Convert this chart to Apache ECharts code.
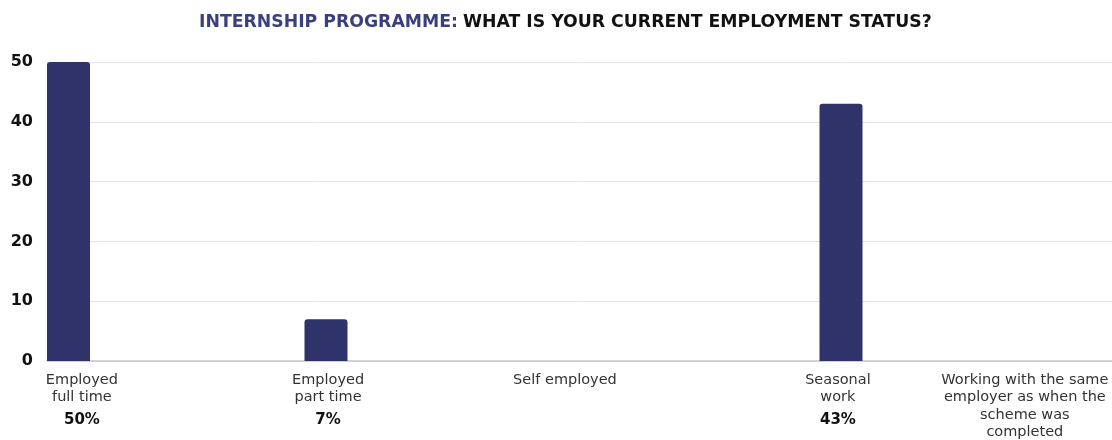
<!DOCTYPE html>
<html>
<head>
<meta charset="utf-8">
<script src="https://cdn.jsdelivr.net/npm/echarts@6/dist/echarts.min.js"></script>
<style>
  html, body { margin: 0; padding: 0; background: #ffffff; }
  #chart { width: 1112px; height: 440px; }
</style>
</head>
<body>
<div id="chart"></div>
<script>
// Survey answers and the share of respondents for each one (percent)
const categories = [
  'Employed\nfull time',
  'Employed\npart time',
  'Self employed',
  'Seasonal\nwork',
  'Working with the same\nemployer as when the\nscheme was\ncompleted'
];
const shares = [50, 7, 0, 43, 0];
const shareLabels = ['50%', '7%', '', '43%', ''];
const yTicks = [0, 10, 20, 30, 40, 50];

// Where each category caption sits along the x scale (bar slots are 0..4)
const captionAnchors = [0.052, 1.008, 1.928, 2.988, 3.714];

const FONT = '"DejaVu Sans", "Open Sans", sans-serif';

const chart = echarts.init(document.getElementById('chart'), null, { renderer: 'canvas' });

const barData = shares.map((v, i) => [i, v]);

chart.setOption({
  animation: false,
  backgroundColor: '#ffffff',
  title: {
    left: 194,
    top: 9,
    text: '{a|INTERNSHIP PROGRAMME:} {b|WHAT IS YOUR CURRENT EMPLOYMENT STATUS?}',
    textStyle: {
      rich: {
        a: { fontFamily: FONT, fontWeight: 'bold', fontSize: 17.3, color: '#3b3f7d' },
        b: { fontFamily: FONT, fontWeight: 'bold', fontSize: 17.3, color: '#111111' }
      }
    }
  },
  grid: { left: 47, right: 0, top: 62, bottom: 79, containLabel: false, outerBoundsMode: 'none' },
  xAxis: {
    type: 'value',
    min: -0.0835,
    max: 4.0524,
    axisLine: { show: true, onZero: false, lineStyle: { color: '#c6c6c6', width: 1.5 } },
    axisTick: { show: false },
    splitLine: { show: false },
    axisLabel: {
      customValues: captionAnchors,
      margin: 10,
      interval: 0,
      hideOverlap: false,
      showMinLabel: true,
      showMaxLabel: true,
      formatter: function (value, index) {
        let i = captionAnchors.indexOf(value);
        if (i < 0) i = index;
        const name = categories[i] || '';
        const pct = shareLabels[i];
        return '{n|' + name.split('\n').join('}\n{n|') + '}' + (pct ? '\n{p|' + pct + '}' : '');
      },
      rich: {
        n: { fontFamily: FONT, fontSize: 14.5, color: '#333333', lineHeight: 17.5, align: 'center' },
        p: { fontFamily: FONT, fontWeight: 'bold', fontSize: 15, color: '#111111', lineHeight: 22, verticalAlign: 'bottom', align: 'center' }
      }
    }
  },
  yAxis: {
    type: 'value',
    min: yTicks[0],
    max: yTicks[yTicks.length - 1],
    interval: 10,
    axisLine: { show: false },
    axisTick: { show: false },
    axisLabel: {
      margin: 14,
      fontFamily: FONT,
      fontWeight: 'bold',
      fontSize: 16,
      color: '#111111'
    },
    splitLine: { show: true, lineStyle: { color: '#e4e4e4', width: 1 } }
  },
  series: [{
    type: 'bar',
    data: barData,
    barWidth: 43,
    itemStyle: { color: '#2f336a', borderRadius: [3, 3, 0, 0] }
  }]
});
</script>
</body>
</html>
